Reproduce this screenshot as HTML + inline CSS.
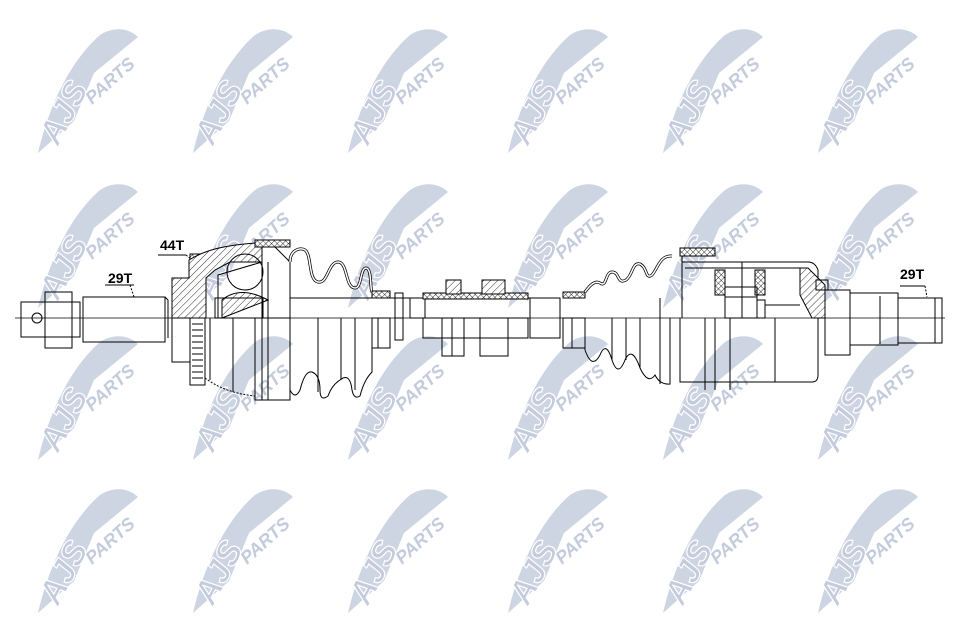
<!DOCTYPE html>
<html><head><meta charset="utf-8"><style>html,body{margin:0;padding:0;background:#fff}svg{display:block}</style></head>
<body>
<svg width="960" height="640" viewBox="0 0 960 640" xmlns="http://www.w3.org/2000/svg">
<defs>
<pattern id="h" width="5" height="5" patternUnits="userSpaceOnUse" patternTransform="rotate(45)"><rect width="5" height="5" fill="#fff"/><line x1="0" y1="0" x2="0" y2="5" stroke="#000" stroke-width="0.8"/></pattern>
<pattern id="x" width="4" height="4" patternUnits="userSpaceOnUse" patternTransform="rotate(45)"><rect width="4" height="4" fill="#fff"/><path d="M0 0V4M0 0H4" stroke="#000" stroke-width="0.8"/></pattern>
<g id="wm">
<path d="M8,128 C18,85 38,38 70,10 C82,2 98,2 108,12 L64,48 L44,96 Z" fill="#cdd4e2"/>
<text x="0" y="0" transform="translate(28,122) rotate(-62)" font-family="Liberation Sans, sans-serif" font-weight="bold" font-style="italic" font-size="34" fill="#c3cbdc" stroke="#fff" stroke-width="1.2">AJS</text>
<text x="0" y="0" transform="translate(62,80) rotate(-42)" font-family="Liberation Sans, sans-serif" font-weight="bold" font-style="italic" font-size="18" fill="#c3cbdc">PARTS</text>
</g>
</defs>
<rect width="960" height="640" fill="#fff"/>
<g>
<use href="#wm" x="30" y="25"/><use href="#wm" x="185" y="25"/><use href="#wm" x="340" y="25"/><use href="#wm" x="500" y="25"/><use href="#wm" x="655" y="25"/><use href="#wm" x="810" y="25"/>
<use href="#wm" x="30" y="180"/><use href="#wm" x="185" y="180"/><use href="#wm" x="340" y="180"/><use href="#wm" x="500" y="180"/><use href="#wm" x="655" y="180"/><use href="#wm" x="810" y="180"/>
<use href="#wm" x="30" y="332"/><use href="#wm" x="185" y="332"/><use href="#wm" x="340" y="332"/><use href="#wm" x="500" y="332"/><use href="#wm" x="655" y="332"/><use href="#wm" x="810" y="332"/>
<use href="#wm" x="30" y="485"/><use href="#wm" x="185" y="485"/><use href="#wm" x="340" y="485"/><use href="#wm" x="500" y="485"/><use href="#wm" x="655" y="485"/><use href="#wm" x="810" y="485"/>
</g>
<g fill="none" stroke="#000" stroke-width="1">
<line x1="15" y1="318" x2="945" y2="318" stroke-width="0.8"/>
<rect x="21" y="302" width="24" height="35"/>
<circle cx="37" cy="318" r="5"/>
<rect x="45" y="292" width="27" height="56"/>
<line x1="45" y1="302" x2="72" y2="302"/><line x1="45" y1="337" x2="72" y2="337"/>
<rect x="72" y="302" width="8" height="35"/>
<rect x="83" y="297" width="82" height="45"/>
<line x1="165" y1="297" x2="168" y2="300"/><line x1="168" y1="300" x2="168" y2="338"/>
<line x1="105" y1="285" x2="134" y2="285"/>
<line x1="130" y1="285" x2="134" y2="297" stroke-dasharray="2,1.5"/>
<line x1="158" y1="255" x2="186" y2="255"/>
<line x1="186" y1="255" x2="192" y2="260" stroke-dasharray="2,1.5"/>
<rect x="190" y="254" width="12" height="6" fill="url(#x)"/>
<path d="M172,278 L189,278 L189,260 C205,250 225,245 256,243 L262,243 L262,262 L230,262 L215,270 L206,278 L206,318 L172,318 Z" fill="url(#h)"/>
<path d="M218,275 L262,262 L262,318 L218,318 Z"/>
<circle cx="245" cy="272" r="18"/>
<path d="M222,300 Q240,285 268,300 L268,300 L222,318 Z" fill="url(#h)"/>
<rect x="215" y="298" width="48" height="20"/>
<rect x="255" y="240" width="35" height="7" fill="url(#x)"/>
<path d="M262,247 L275,247 L290,262 L290,318"/>
<line x1="262" y1="247" x2="262" y2="318"/>
<line x1="268" y1="262" x2="268" y2="318"/>
<rect x="172" y="318" width="18" height="44"/>
<rect x="190" y="318" width="15" height="67"/>
<path d="M192,324 H203 M192,330 H203 M192,336 H203 M192,342 H203 M192,348 H203 M192,354 H203 M192,360 H203 M192,366 H203 M192,372 H203 M192,378 H203"/>
<path d="M205,378 Q225,393 255,396" stroke-dasharray="2,1.5"/>
<line x1="210" y1="318" x2="210" y2="380"/>
<line x1="233" y1="318" x2="233" y2="392"/>
<rect x="255" y="318" width="35" height="82"/>
<line x1="262" y1="318" x2="262" y2="400"/><line x1="268" y1="318" x2="268" y2="400"/>
<path d="M290,262 C290,250 300,247 305,250 C312,255 308,280 318,282 C328,284 328,262 338,262 C348,262 345,288 355,288 C362,288 360,268 366,268 C372,268 370,290 372,292" stroke-width="3" stroke="#000"/>
<path d="M290,262 C290,250 300,247 305,250 C312,255 308,280 318,282 C328,284 328,262 338,262 C348,262 345,288 355,288 C362,288 360,268 366,268 C372,268 370,290 372,292" stroke-width="1.5" stroke="#fff"/>
<rect x="372" y="291" width="18" height="7" fill="url(#x)"/>
<path d="M290,318 V390 Q295,400 300,390 Q305,370 312,372 Q320,375 320,390 Q320,402 328,396 Q332,385 340,380 Q350,372 352,390 Q354,400 360,396 Q364,380 372,372 V318"/>
<line x1="318" y1="318" x2="318" y2="392"/>
<line x1="341" y1="318" x2="341" y2="380"/>
<line x1="355" y1="318" x2="355" y2="390"/>
<rect x="372" y="318" width="18" height="30"/>
<line x1="378" y1="318" x2="378" y2="348"/>
<line x1="290" y1="298" x2="560" y2="298"/>
<rect x="395" y="293" width="8" height="25"/><rect x="395" y="318" width="8" height="22"/>
<rect x="410" y="298" width="15" height="20"/>
<rect x="423" y="293" width="105" height="6" fill="url(#x)"/>
<rect x="446" y="280" width="15" height="14" fill="url(#h)"/>
<rect x="482" y="280" width="23" height="14" fill="url(#h)"/>
<rect x="423" y="318" width="105" height="20"/>
<rect x="442" y="318" width="22" height="38"/><rect x="480" y="318" width="28" height="38"/>
<line x1="452" y1="318" x2="452" y2="356"/>
<rect x="530" y="298" width="30" height="40"/>
<rect x="563" y="292" width="22" height="6" fill="url(#x)"/>
<rect x="563" y="318" width="22" height="30"/>
<line x1="572" y1="318" x2="572" y2="348"/>
<path d="M585,292 C590,285 595,280 600,283 C607,288 605,272 612,272 C620,272 617,285 626,280 C633,275 632,262 640,264 C648,268 645,280 652,275 C658,268 660,255 672,256" stroke-width="3"/>
<path d="M585,292 C590,285 595,280 600,283 C607,288 605,272 612,272 C620,272 617,285 626,280 C633,275 632,262 640,264 C648,268 645,280 652,275 C658,268 660,255 672,256" stroke-width="1.5" stroke="#fff"/>
<path d="M585,318 V350 Q592,370 600,355 Q606,340 612,360 Q618,378 625,360 Q632,345 640,368 Q648,385 655,375 Q660,385 670,384 V318"/>
<line x1="612" y1="318" x2="612" y2="360"/>
<line x1="626" y1="318" x2="626" y2="360"/>
<line x1="640" y1="318" x2="640" y2="368"/>
<line x1="660" y1="298" x2="660" y2="384"/>
<rect x="680" y="248" width="35" height="8" fill="url(#x)"/>
<path d="M682,256 V262 H808 Q815,262 818,270 L818,318"/>
<path d="M682,262 V318"/>
<path d="M685,268 H808 L825,285 V318 H812 L800,295 V268" fill="url(#h)"/>
<rect x="715" y="270" width="10" height="25" fill="url(#x)"/>
<rect x="755" y="270" width="10" height="25" fill="url(#x)"/>
<rect x="725" y="287" width="32" height="10"/>
<rect x="725" y="297" width="32" height="21"/>
<line x1="742" y1="262" x2="742" y2="318"/>
<rect x="757" y="300" width="8" height="18"/>
<line x1="765" y1="305" x2="800" y2="305"/>
<path d="M680,318 V382 H812 Q818,382 818,375 V318"/>
<line x1="705" y1="318" x2="705" y2="390"/><line x1="715" y1="318" x2="715" y2="390"/><line x1="730" y1="318" x2="730" y2="390"/>
<line x1="775" y1="318" x2="775" y2="382"/>
<rect x="816" y="280" width="12" height="10"/>
<rect x="825" y="290" width="25" height="65"/>
<rect x="850" y="293" width="48" height="52"/>
<line x1="880" y1="296" x2="880" y2="344"/>
<rect x="898" y="298" width="44" height="45"/>
<line x1="935" y1="298" x2="935" y2="343"/>
<line x1="900" y1="286" x2="925" y2="286"/>
<line x1="925" y1="286" x2="927" y2="297" stroke-dasharray="2,1.5"/>
</g>
<g font-family="Liberation Sans, sans-serif" font-size="14" font-weight="bold" fill="#000">
<text x="108" y="283">29T</text>
<text x="160" y="250">44T</text>
<text x="900" y="279">29T</text>
</g>
</svg>
</body></html>
